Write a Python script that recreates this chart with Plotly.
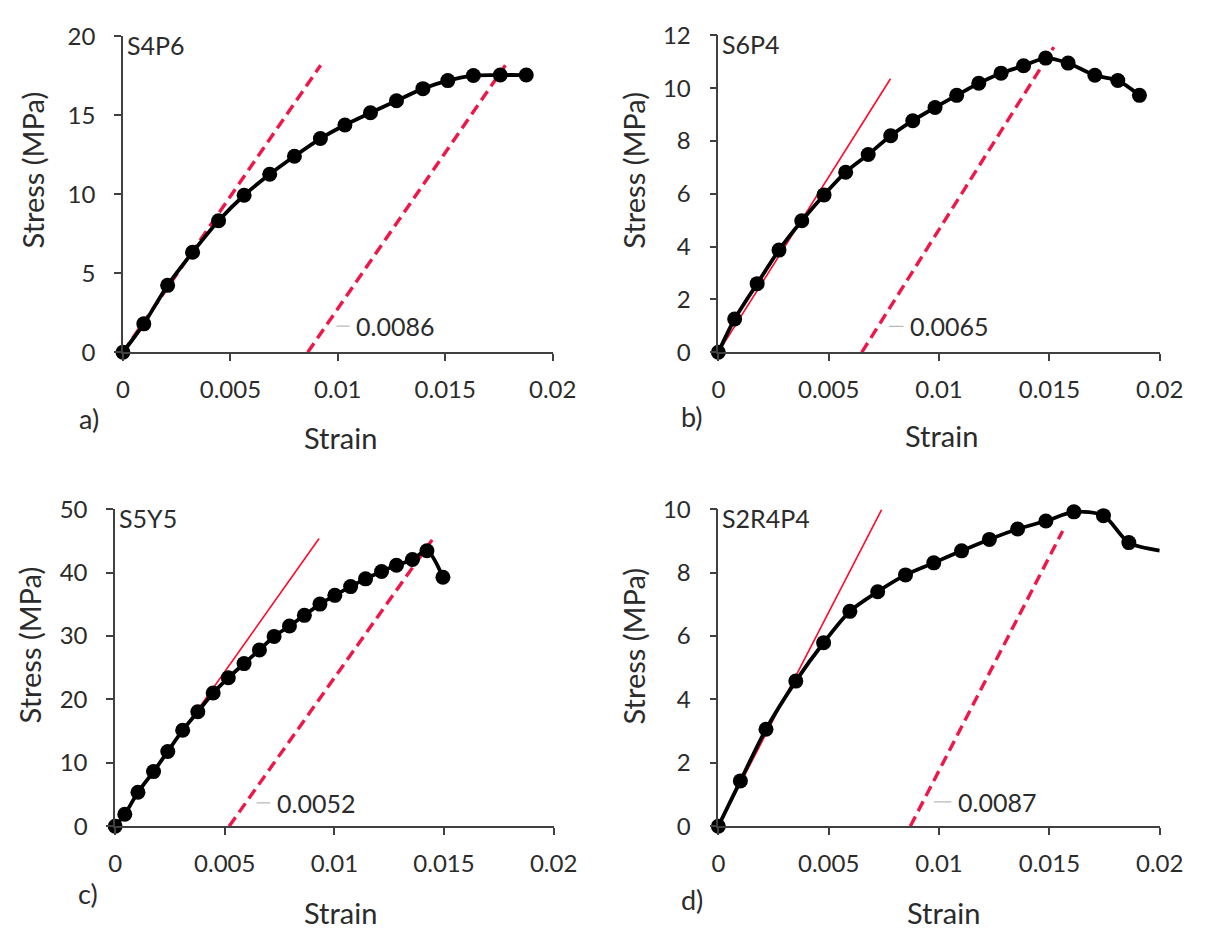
import plotly.graph_objects as go

W, H = 1212, 941
FONT = "Lato"
TXT = "#2b2b2b"

# ---- specimen data: strain / stress (MPa) ----
s4p6_strain = [0, 0.00097, 0.00208, 0.00324, 0.00445, 0.00564, 0.00683, 0.00798, 0.00919,
               0.01033, 0.01152, 0.01273, 0.01396, 0.01512, 0.01631, 0.01756, 0.01877]
s4p6_stress = [0, 1.80, 4.24, 6.33, 8.33, 9.94, 11.27, 12.41, 13.53,
               14.39, 15.16, 15.92, 16.69, 17.20, 17.52, 17.55, 17.55]

s6p4_strain = [0, 0.00074, 0.00176, 0.00275, 0.00378, 0.00479, 0.00577, 0.00679, 0.00781, 0.00881,
               0.00982, 0.01080, 0.01180, 0.01281, 0.01383, 0.01483, 0.01585, 0.01706, 0.01810, 0.01908]
s6p4_stress = [0, 1.26, 2.60, 3.87, 4.98, 5.96, 6.82, 7.49, 8.20, 8.77,
               9.27, 9.73, 10.19, 10.57, 10.85, 11.14, 10.95, 10.49, 10.29, 9.73]

s5y5_strain = [0, 0.00044, 0.00104, 0.00175, 0.00240, 0.00308, 0.00377, 0.00447, 0.00516, 0.00588,
               0.00658, 0.00725, 0.00795, 0.00863, 0.00934, 0.01002, 0.01074, 0.01142, 0.01215,
               0.01283, 0.01356, 0.01422, 0.01495]
s5y5_stress = [0, 1.89, 5.36, 8.62, 11.79, 15.15, 18.06, 21.02, 23.42, 25.66,
               27.81, 29.95, 31.58, 33.27, 35.05, 36.43, 37.81, 39.03, 40.20,
               41.17, 42.09, 43.47, 39.29]

s2r4p4_strain = [0, 0.00100, 0.00216, 0.00351, 0.00477, 0.00596, 0.00722, 0.00848, 0.00976,
                 0.01102, 0.01228, 0.01356, 0.01484, 0.01611, 0.01745, 0.01860, 0.02000]
s2r4p4_stress = [0, 1.43, 3.06, 4.58, 5.79, 6.78, 7.40, 7.93, 8.31,
                 8.69, 9.05, 9.38, 9.63, 9.92, 9.80, 8.95, 8.70]
s2r4p4_marked = 16  # the final point only ends the smoothed curve

# ---- elastic modulus (MPa), offset strain, line extents ----
names = ["S4P6", "S6P4", "S5Y5", "S2R4P4"]
letters = ["a)", "b)", "c)", "d)"]
moduli = [1975, 1328, 4880, 1350]
offsets = [0.0086, 0.0065, 0.0052, 0.0087]
offset_labels = ["0.0086", "0.0065", "0.0052", "0.0087"]
elastic_end = [0.0092, 0.0078, 0.0093, 0.0074]
offset_end = [0.0178, 0.0152, 0.0146, 0.0156]
elastic_dashed = [True, False, False, False]
label_xy = [(0.01075, 1.66), (0.00859, 0.98), (0.00727, 3.67), (0.01076, 0.77)]

y_max = [20, 12, 50, 10]
y_step = [5, 2, 10, 2]
x_ticks = [0, 0.005, 0.01, 0.015, 0.02]
x_tick_text = ["0", "0.005", "0.01", "0.015", "0.02"]

curves = [(s4p6_strain, s4p6_stress, len(s4p6_strain)),
          (s6p4_strain, s6p4_stress, len(s6p4_strain)),
          (s5y5_strain, s5y5_stress, len(s5y5_strain)),
          (s2r4p4_strain, s2r4p4_stress, s2r4p4_marked)]

# plot-area boxes in pixels: left, right, top, bottom
boxes = [(119, 560, 21, 347), (730, 1183, 20, 347),
         (111, 561, 509, 836), (730, 1183, 509, 836)]
ytitle_px = [(26, 159), (643, 159), (24, 649), (643, 650)]
xtitle_px = [(342, 435), (959, 433), (342, 925), (961, 925)]
letter_px = [(84, 415), (703, 413), (83, 905), (703, 912)]

RED = "#ee1747"

fig = go.Figure()
annotations = []
layout = {}

for i in range(4):
    xa = "x" if i == 0 else f"x{i+1}"
    ya = "y" if i == 0 else f"y{i+1}"
    xkey = "xaxis" if i == 0 else f"xaxis{i+1}"
    ykey = "yaxis" if i == 0 else f"yaxis{i+1}"
    l, r, t, b = boxes[i]
    E = moduli[i]

    # elastic line through the origin
    fig.add_trace(go.Scatter(
        x=[0, elastic_end[i]], y=[0, E * elastic_end[i]], mode="lines",
        line=dict(color=RED if elastic_dashed[i] else "#ff0a2a",
                  width=3.4 if elastic_dashed[i] else 1.6,
                  dash="11px,6px" if elastic_dashed[i] else "solid"),
        xaxis=xa, yaxis=ya, showlegend=False, hoverinfo="skip", cliponaxis=False))

    # offset line parallel to the elastic line
    fig.add_trace(go.Scatter(
        x=[offsets[i], offset_end[i]], y=[0, E * (offset_end[i] - offsets[i])], mode="lines",
        line=dict(color=RED, width=3.4, dash="11px,6px"),
        xaxis=xa, yaxis=ya, showlegend=False, hoverinfo="skip", cliponaxis=False))

    # stress-strain curve (smoothed line) and its data markers
    sx, sy, nmark = curves[i]
    fig.add_trace(go.Scatter(
        x=sx, y=sy, mode="lines",
        line=dict(color="#000000", width=3.8, shape="spline", smoothing=0.8),
        xaxis=xa, yaxis=ya, showlegend=False, hoverinfo="skip", cliponaxis=False))
    fig.add_trace(go.Scatter(
        x=sx[:nmark], y=sy[:nmark], mode="markers",
        marker=dict(color="#000000", size=15, opacity=1, line=dict(width=0)),
        xaxis=xa, yaxis=ya, showlegend=False, cliponaxis=False))

    # leader line and offset-strain label
    lx, ly = label_xy[i]
    fig.add_trace(go.Scatter(
        x=[offsets[i] + ly / E + 0.0005, lx - 0.0002], y=[ly, ly], mode="lines",
        line=dict(color="#b8b8b8", width=1.2),
        xaxis=xa, yaxis=ya, showlegend=False, hoverinfo="skip"))
    annotations.append(dict(x=lx, y=ly, xref=xa, yref=ya, text=offset_labels[i],
                            showarrow=False, xanchor="left", yanchor="middle",
                            font=dict(family=FONT, size=25, color=TXT)))

    layout[xkey] = dict(
        domain=[l / W, r / W], anchor=ya, range=[0, 0.02],
        tickvals=x_ticks, ticktext=x_tick_text,
        showline=True, linecolor="#404040", linewidth=1.6,
        ticks="outside", ticklen=7, tickwidth=1.6, tickcolor="#404040",
        ticklabelstandoff=8,
        showgrid=False, zeroline=False,
        tickfont=dict(family=FONT, size=24, color=TXT))
    yt = list(range(0, y_max[i] + 1, y_step[i]))
    layout[ykey] = dict(
        domain=[1 - b / H, 1 - t / H], anchor=xa, range=[0, y_max[i]],
        tickvals=yt, ticktext=[str(v) for v in yt],
        showline=True, linecolor="#404040", linewidth=1.6,
        ticks="outside", ticklen=7, tickwidth=1.6, tickcolor="#404040",
        ticklabelstandoff=14,
        showgrid=False, zeroline=False,
        tickfont=dict(family=FONT, size=24, color=TXT))

    # specimen name in the top-left corner
    annotations.append(dict(x=(l + 2) / W, y=1 - (t + 9) / H, xref="paper", yref="paper",
                            text=names[i], showarrow=False, xanchor="left", yanchor="middle",
                            font=dict(family=FONT, size=25, color=TXT)))
    # axis titles
    annotations.append(dict(x=ytitle_px[i][0] / W, y=1 - ytitle_px[i][1] / H,
                            xref="paper", yref="paper", text="Stress (MPa)", textangle=-90,
                            showarrow=False, xanchor="center", yanchor="middle",
                            font=dict(family=FONT, size=29, color=TXT)))
    annotations.append(dict(x=xtitle_px[i][0] / W, y=1 - xtitle_px[i][1] / H,
                            xref="paper", yref="paper", text="Strain",
                            showarrow=False, xanchor="center", yanchor="middle",
                            font=dict(family=FONT, size=29, color=TXT)))
    # panel letter
    annotations.append(dict(x=letter_px[i][0] / W, y=1 - letter_px[i][1] / H,
                            xref="paper", yref="paper", text=letters[i],
                            showarrow=False, xanchor="center", yanchor="middle",
                            font=dict(family=FONT, size=27, color=TXT)))

fig.update_layout(
    width=W, height=H, margin=dict(l=0, r=0, t=0, b=0),
    paper_bgcolor="white", plot_bgcolor="white",
    annotations=annotations, **layout)

fig.write_html("out.html")
